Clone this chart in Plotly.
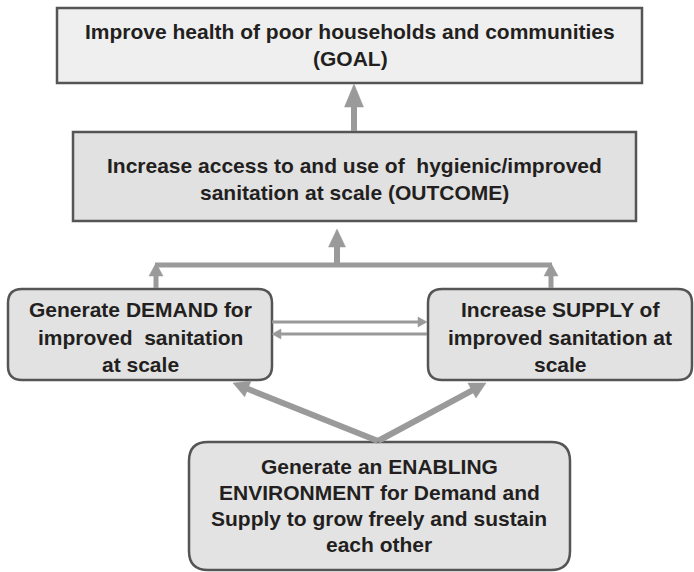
import plotly.graph_objects as go
import math

# ---- text content (data) ----
goal_lines = ["Improve health of poor households and communities", "(GOAL)"]
outcome_lines = ["Increase access to and use of  hygienic/improved", "sanitation at scale (OUTCOME)"]
demand_lines = ["Generate DEMAND for", "improved  sanitation", "at scale"]
supply_lines = ["Increase SUPPLY of", "improved sanitation at", "scale"]
enabling_lines = ["Generate an ENABLING", "ENVIRONMENT for Demand and", "Supply to grow freely and sustain", "each other"]

W, H = 694, 572
ARROW = "#9a9a9a"
BORDER = "#555555"
TXT = "#231f20"
FONT = "Liberation Sans, Arial, sans-serif"
FS = 21

shapes = []
annotations = []


def rect(x0, y0, x1, y1, fill, r=0):
    if r == 0:
        path = f"M{x0},{y0} L{x1},{y0} L{x1},{y1} L{x0},{y1} Z"
    else:
        path = (f"M{x0+r},{y0} L{x1-r},{y0} Q{x1},{y0} {x1},{y0+r} "
                f"L{x1},{y1-r} Q{x1},{y1} {x1-r},{y1} L{x0+r},{y1} "
                f"Q{x0},{y1} {x0},{y1-r} L{x0},{y0+r} Q{x0},{y0} {x0+r},{y0} Z")
    shapes.append(dict(type="path", path=path, xref="x", yref="y",
                       fillcolor=fill, line=dict(color=BORDER, width=2.5), layer="above"))


def arrow(x0, y0, x1, y1, shaft, head_w, head_l, color=ARROW):
    dx, dy = x1 - x0, y1 - y0
    L = math.hypot(dx, dy)
    ux, uy = dx / L, dy / L
    px, py = -uy, ux
    bx, by = x1 - ux * head_l, y1 - uy * head_l
    shapes.append(dict(type="line", x0=x0, y0=y0, x1=bx + ux * 1, y1=by + uy * 1,
                       xref="x", yref="y", line=dict(color=color, width=shaft), layer="above"))
    p = (f"M{x1},{y1} L{bx + px*head_w/2},{by + py*head_w/2} "
         f"L{bx - px*head_w/2},{by - py*head_w/2} Z")
    shapes.append(dict(type="path", path=p, xref="x", yref="y", fillcolor=color,
                       line=dict(color=color, width=0.5), layer="above"))


def text_block(lines, cx, ys, size=FS):
    for t, y in zip(lines, ys):
        annotations.append(dict(x=cx, y=y, xref="x", yref="y", text=t, showarrow=False,
                                xanchor="center", yanchor="middle",
                                font=dict(family=FONT, size=size, color=TXT, weight="bold")))


# boxes
rect(57, 8, 642, 83, "#efefef")
rect(73, 132, 636, 221, "#e1e1e1")
rect(8, 289, 272, 380, "#e2e2e2", r=14)
rect(428, 289, 692, 380, "#e2e2e2", r=14)
rect(189, 442, 570, 570, "#e3e3e3", r=19)

# arrows
arrow(354, 131, 354, 84, 6, 19, 23)
shapes.append(dict(type="line", x0=155, y0=265, x1=552, y1=265, xref="x", yref="y",
                   line=dict(color=ARROW, width=5), layer="above"))
arrow(337, 267, 337, 229, 6, 17, 18)
arrow(156, 288, 156, 263, 5, 14, 13)
arrow(551, 288, 551, 263, 5, 14, 13)
arrow(272, 322, 427, 322, 3, 10, 9)
arrow(427, 334, 272, 334, 3, 10, 9)
arrow(378, 441, 233, 383, 6, 17, 16)
arrow(378, 441, 486, 383, 6, 17, 16)

# text
text_block(goal_lines, 350, [31, 58])
text_block(outcome_lines, 354, [165, 192])
text_block(demand_lines, 140, [309, 337, 364])
text_block(supply_lines, 560, [309, 337, 364])
text_block(enabling_lines, 379, [466, 492, 518, 544])

fig = go.Figure()
fig.update_layout(
    width=W, height=H, margin=dict(l=0, r=0, t=0, b=0),
    paper_bgcolor="white", plot_bgcolor="white",
    xaxis=dict(range=[0, W], visible=False, fixedrange=True),
    yaxis=dict(range=[H, 0], visible=False, fixedrange=True),
    shapes=shapes, annotations=annotations, showlegend=False,
)
fig.write_html(
    "out.html",
    config={"displayModeBar": False},
    post_script="document.body.style.margin='0';document.body.style.overflow='hidden';",
)
